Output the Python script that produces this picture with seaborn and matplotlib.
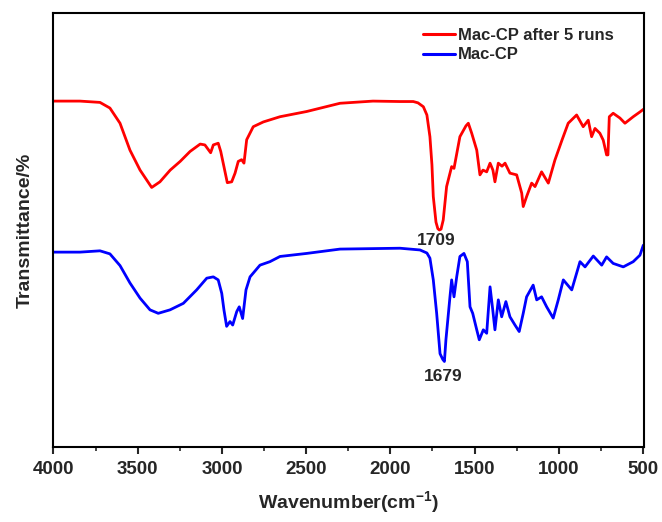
import numpy as np
import pandas as pd
import matplotlib
matplotlib.use("Agg")
import matplotlib.pyplot as plt
import seaborn as sns
from matplotlib.ticker import MultipleLocator

# ---- data ----
red_label = "Mac-CP after 5 runs"
blue_label = "Mac-CP"

red_wn = [4000, 3843, 3724, 3665, 3605, 3546, 3486, 3417, 3368, 3307, 3248, 3189, 3129, 3101,
          3067, 3051, 3022, 3007, 2988, 2968, 2942, 2922, 2903, 2883, 2869, 2853, 2814, 2754,
          2655, 2497, 2299, 2103, 1943,
          1864, 1836, 1804, 1783, 1765, 1753, 1745, 1729, 1718, 1709, 1699, 1686, 1666, 1636,
          1622, 1587, 1551, 1537, 1517, 1487, 1468, 1450, 1428, 1408, 1391, 1379, 1359, 1337,
          1319, 1290, 1250, 1220, 1211, 1191, 1161, 1141, 1102, 1062, 1023, 981, 944, 894, 855,
          825, 805, 785, 756, 736, 716, 708, 700, 677, 637, 607, 558, 518, 498]
red_t = [79.7, 79.7, 79.4, 78.1, 74.6, 68.4, 63.8, 59.8, 61.1, 63.8, 65.8, 68.1, 69.8, 69.6,
         67.8, 69.6, 70.0, 68.1, 64.6, 60.9, 61.1, 63.1, 65.8, 66.2, 65.4, 70.8, 73.8, 74.9,
         76.1, 77.3, 79.2, 79.7, 79.6,
         79.6, 79.3, 78.4, 76.5, 71.5, 65.0, 57.7, 51.8, 50.3, 50.0, 50.2, 52.3, 60.0, 64.6,
         64.2, 71.5, 74.0, 74.6, 72.3, 68.4, 62.7, 63.8, 63.4, 65.4, 63.8, 61.1, 65.4, 64.7,
         65.4, 63.1, 62.7, 58.5, 55.4, 57.7, 60.8, 60.0, 63.4, 60.8, 66.1, 70.7, 74.6, 76.5, 73.8,
         75.3, 71.5, 73.4, 72.3, 70.7, 67.3, 67.3, 76.1, 76.9, 75.8, 74.6, 76.1, 77.2, 77.8]

blue_wn = [4000, 3843, 3724, 3665, 3605, 3546, 3486, 3427, 3378, 3308, 3229, 3150, 3090, 3051,
           3022, 3001, 2988, 2972, 2952, 2936, 2912, 2897, 2877, 2857, 2833, 2774, 2715, 2655,
           2497, 2299, 1943, 1824,
           1783, 1765, 1745, 1725, 1705, 1689, 1679, 1670, 1646, 1636, 1622, 1606, 1587, 1563,
           1543, 1527, 1511, 1487, 1472, 1448, 1428, 1408, 1392, 1379, 1359, 1339, 1314, 1290,
           1260, 1235, 1211, 1191, 1152, 1131, 1102, 1072, 1033, 1003, 973, 923, 874, 844, 795,
           745, 716, 677, 617, 558, 518, 498]
blue_t = [44.9, 44.9, 45.2, 44.5, 41.8, 37.8, 34.3, 31.6, 30.8, 31.6, 33.1, 36.2, 38.9, 39.2,
          38.5, 35.4, 31.6, 27.8, 28.9, 28.1, 31.2, 32.3, 29.6, 36.2, 39.2, 41.9, 42.7, 43.9,
          44.6, 45.6, 45.8, 45.4,
          44.7, 43.5, 38.5, 30.8, 21.5, 20.2, 19.7, 24.7, 34.6, 38.5, 34.6, 39.2, 43.9, 44.6,
          42.7, 32.3, 30.8, 27.0, 24.7, 27.0, 26.2, 36.9, 31.6, 27.0, 33.9, 30.0, 33.5, 30.0,
          28.1, 26.6, 30.8, 34.6, 37.3, 33.9, 34.6, 32.3, 29.7, 33.9, 38.5, 36.2, 42.7, 41.5, 44.0,
          41.9, 43.8, 42.3, 41.5, 42.7, 44.2, 46.5]

peak_labels = ["1709", "1679"]
peak_pos = [(1725, 47.6), (1684, 16.3)]

xticks = [4000, 3500, 3000, 2500, 2000, 1500, 1000, 500]

df = pd.concat([
    pd.DataFrame({"wn": red_wn, "T": red_t, "sample": red_label}),
    pd.DataFrame({"wn": blue_wn, "T": blue_t, "sample": blue_label}),
])

# ---- styling ----
sns.set_style("ticks")
plt.rcParams["font.family"] = ["Liberation Sans", "DejaVu Sans"]
plt.rcParams["font.weight"] = "bold"
plt.rcParams["mathtext.fontset"] = "custom"
plt.rcParams["mathtext.rm"] = "Liberation Sans:bold"
plt.rcParams["mathtext.bf"] = "Liberation Sans:bold"
plt.rcParams["mathtext.default"] = "bf"

fig = plt.figure(figsize=(6.62, 5.22), dpi=100)
ax = fig.add_axes([0.0808, 0.1437, 0.892, 0.8314])

sns.lineplot(data=df, x="wn", y="T", hue="sample", sort=False,
             palette={red_label: "#ff0000", blue_label: "#0000ff"},
             linewidth=2.0, ax=ax, legend=True)

ax.set_xlim(4000, 494)
ax.set_ylim(0, 100)
ax.set_xticks(xticks)
ax.xaxis.set_minor_locator(MultipleLocator(250))
ax.set_yticks([])
ax.tick_params(axis="x", which="major", direction="out", length=5, width=1.5,
               labelsize=13.5, pad=5)
ax.tick_params(axis="x", which="minor", direction="out", length=3, width=1.2)
for lab in ax.get_xticklabels():
    lab.set_fontweight("bold")
for s in ax.spines.values():
    s.set_visible(True)
    s.set_linewidth(1.5)
    s.set_color("black")

ax.set_xlabel("Wavenumber(cm$^{-1}$)", fontsize=14, fontweight="bold", labelpad=8)
ax.set_ylabel("Transmittance/%", fontsize=14, fontweight="bold", labelpad=14)

for txt, (x, y) in zip(peak_labels, peak_pos):
    ax.text(x, y, txt, ha="center", va="center", fontsize=12.5, fontweight="bold")

leg = ax.legend(loc="upper left", bbox_to_anchor=(0.626, 0.965), frameon=False,
                borderpad=0, borderaxespad=0, handlelength=1.9, handletextpad=0.2,
                labelspacing=0.25, prop={"size": 12, "weight": "bold"})
for line in leg.get_lines():
    line.set_linewidth(2.2)

fig.savefig("out.png", dpi=100)
